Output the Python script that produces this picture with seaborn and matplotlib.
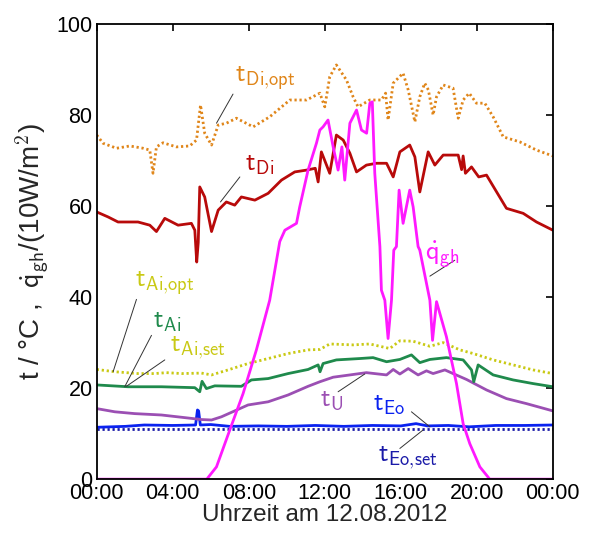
import numpy as np
import matplotlib
matplotlib.use("Agg")
import matplotlib.pyplot as plt
import seaborn as sns

# hours of day and values
t_di_opt_h = [0.0, 0.33, 1.04, 1.74, 2.44, 2.79, 2.96, 3.14, 3.49, 4.19, 4.89, 5.25, 5.46, 5.68,
              6.04, 6.39, 6.82, 7.35, 8.23, 9.1, 10.16, 11.04, 11.74, 12.0, 12.26, 12.61, 13.14,
              13.49, 13.75, 14.37, 14.98, 15.2, 15.33, 15.6, 16.12, 16.39, 16.74, 17.0, 17.26,
              17.45, 17.7, 17.88, 18.23, 18.75, 19.02, 19.28, 19.6, 19.98, 20.42, 20.86, 21.39,
              22.26, 23.14, 24.0]
t_di_opt = [75.6, 73.8, 72.7, 73.2, 72.7, 72.3, 67.2, 73.0, 73.9, 73.0, 73.2, 74.5, 82.2, 76.0,
            73.4, 77.8, 78.2, 79.3, 77.4, 79.6, 83.3, 83.3, 84.8, 81.8, 88.4, 91.0, 87.7,
            84.0, 81.8, 83.3, 83.3, 84.8, 78.9, 87.0, 89.2, 85.5, 78.5, 84.0, 87.0,
            85.5, 80.0, 84.0, 86.6, 85.9, 79.3, 83.3, 84.8, 82.6, 82.6, 79.6, 75.2,
            74.1, 72.3, 71.0]

t_di_h = [0.0, 0.6, 1.12, 2.17, 2.79, 3.14, 3.58, 4.28, 4.98, 5.16, 5.26, 5.34, 5.42, 5.68,
          6.04, 6.39, 6.82, 7.26, 7.61, 8.32, 9.02, 9.72, 10.42, 11.04, 11.5, 11.65, 11.82,
          12.26, 12.61, 12.97, 13.32, 13.67, 14.19, 14.72, 15.25, 15.6, 15.95, 16.47, 16.74,
          17.0, 17.44, 17.79, 18.23, 19.02, 19.2, 19.28, 19.4, 19.72, 20.1, 20.51, 21.56,
          22.44, 23.14, 24.0]
t_di = [58.7, 57.6, 56.5, 56.5, 55.8, 54.4, 57.3, 55.8, 56.2, 54.7, 47.7, 52.0, 64.2, 62.0,
        54.4, 59.1, 60.9, 60.2, 62.0, 61.3, 62.8, 65.7, 67.5, 67.9, 68.3, 65.3, 71.9,
        67.2, 75.6, 74.5, 71.6, 67.5, 69.0, 69.4, 69.4, 66.4, 71.9, 73.4, 70.8,
        63.1, 71.9, 69.0, 71.2, 71.2, 68.0, 71.0, 67.2, 68.6, 66.4, 66.8, 59.5,
        58.4, 56.5, 54.7]

q_gh_h = [0.0, 5.79, 6.3, 7.0, 7.7, 8.4, 9.1, 9.63, 9.9, 10.51, 10.68, 11.12, 11.56, 11.74,
          11.91, 12.17, 12.44, 12.7, 12.9, 13.05, 13.32, 13.67, 13.93, 14.2, 14.37, 14.5,
          14.63, 14.9, 14.98, 15.16, 15.33, 15.51, 15.63, 15.77, 15.91, 16.12, 16.47, 16.65,
          16.91, 17.0, 17.53, 17.67, 17.88, 18.4, 18.93, 19.28, 19.63, 20.16, 20.68, 24.0]
q_gh = [0.0, 0.0, 2.7, 10.8, 18.8, 28.4, 39.3, 52.2, 54.7, 56.2, 59.8, 67.9, 73.8, 76.7,
        77.4, 78.9, 73.0, 67.9, 73.0, 65.7, 78.2, 81.1, 76.7, 76.0, 82.6, 82.9,
        67.2, 51.1, 41.5, 39.3, 30.9, 39.3, 50.3, 51.1, 63.5, 56.2, 63.5, 59.8,
        51.1, 50.3, 39.3, 30.5, 39.0, 31.3, 21.0, 12.2, 7.8, 2.7, 0.0, 0.0]

t_ai_opt_h = [0.0, 0.95, 2.17, 3.05, 3.67, 4.46, 5.51, 6.04, 6.91, 7.96, 9.02, 10.07, 11.12,
              11.74, 12.26, 13.49, 14.37, 15.42, 15.95, 16.65, 17.53, 18.23, 19.11, 19.81,
              20.86, 21.91, 22.96, 24.0]
t_ai_opt = [24.1, 23.6, 23.2, 23.2, 23.4, 23.2, 23.3, 22.9, 24.0, 25.4, 26.5, 27.6, 28.4,
            28.5, 29.7, 29.5, 29.7, 28.7, 30.4, 30.3, 29.2, 30.0, 28.4, 27.6,
            26.2, 25.1, 24.0, 23.2]

t_ai_h = [0.0, 1.65, 3.4, 5.16, 5.42, 5.54, 5.77, 6.21, 7.61, 8.14, 9.02, 10.07, 11.12, 11.65,
          11.75, 11.91, 12.61, 13.84, 14.54, 15.25, 15.95, 16.56, 17.0, 17.53, 18.4, 19.28,
          19.72, 19.84, 20.07, 20.86, 21.91, 22.96, 24.0]
t_ai = [20.7, 20.3, 20.3, 20.1, 19.2, 21.5, 19.9, 20.5, 20.4, 21.8, 22.1, 23.2, 24.1, 25.1,
        23.6, 25.4, 26.2, 26.5, 26.7, 25.8, 26.3, 27.3, 25.6, 26.3, 26.7, 26.2,
        24.0, 21.4, 25.1, 22.9, 21.8, 21.0, 20.3]

t_u_h = [0.0, 0.95, 2.0, 3.4, 4.46, 5.51, 6.04, 6.56, 7.26, 7.96, 9.02, 10.07, 11.12, 11.74,
         12.44, 13.32, 14.19, 15.25, 15.6, 15.95, 16.39, 16.91, 17.35, 17.7, 18.32, 18.75,
         19.46, 20.51, 21.56, 22.61, 24.0]
t_u = [15.5, 14.8, 14.4, 14.1, 13.6, 13.1, 13.0, 13.7, 15.0, 16.3, 17.0, 18.5, 20.4, 21.4,
       22.4, 22.9, 23.4, 22.9, 24.1, 23.1, 24.3, 22.9, 23.8, 23.2, 24.0, 23.2,
       21.9, 19.6, 17.7, 16.6, 15.0]

t_eo_h = [0.0, 1.5, 2.5, 4.0, 5.2, 5.3, 5.36, 5.45, 6.0, 7.0, 8.5, 10.0, 11.5, 13.0, 14.5,
          16.0, 16.8, 17.4, 18.5, 19.6, 21.0, 22.5, 24.0]
t_eo = [11.4, 11.6, 11.9, 11.8, 11.9, 15.2, 15.0, 11.9, 12.0, 11.6, 11.7, 11.6, 11.8, 11.6,
        11.8, 11.7, 12.2, 11.7, 11.8, 11.5, 11.8, 11.8, 11.9]

t_eo_set_h = [0.0, 24.0]
t_eo_set = [11.0, 11.0]

x_ticks = [0, 4, 8, 12, 16, 20, 24]
x_tick_labels = ["00:00", "04:00", "08:00", "12:00", "16:00", "20:00", "00:00"]
y_ticks = [0, 20, 40, 60, 80, 100]

sns.set_style("white")
plt.rcParams["font.family"] = ["Liberation Sans", "DejaVu Sans"]
plt.rcParams["mathtext.fontset"] = "cm"

fig, ax = plt.subplots(figsize=(5.9, 5.33), dpi=100)
fig.subplots_adjust(left=0.164, right=0.937, top=0.955, bottom=0.101)

dots = (0, (0.8, 1.0))
series = [
    (t_eo_set_h, t_eo_set, "#1a1aa8", dots),
    (t_eo_h, t_eo, "#0a22f0", "-"),
    (t_u_h, t_u, "#9b4fb3", "-"),
    (t_ai_h, t_ai, "#1f8a4c", "-"),
    (t_ai_opt_h, t_ai_opt, "#c9c914", dots),
    (t_di_h, t_di, "#b80a0a", "-"),
    (t_di_opt_h, t_di_opt, "#e0861a", dots),
    (q_gh_h, q_gh, "#ff19ff", "-"),
]
for xs, ys, col, ls in series:
    sns.lineplot(x=xs, y=ys, ax=ax, color=col, linestyle=ls, linewidth=2.0,
                 sort=False, estimator=None)

# labels with thin leader lines: (text, colour, text pos, line start, line end)
labels = [
    (r"$\mathsf{t}_{\mathsf{Di{,}opt}}$", "#e0861a", (7.26, 88.1), (7.17, 84.6), (6.3, 78.2)),
    (r"$\mathsf{t}_{\mathsf{Di}}$", "#b80a0a", (7.79, 69.0), (7.53, 66.4), (6.51, 60.9)),
    (r"$\dot{\mathsf{q}}_{\mathsf{gh}}$", "#ff19ff", (17.26, 49.2), (18.84, 48.1), (17.53, 44.6)),
    (r"$\mathsf{t}_{\mathsf{Ai{,}opt}}$", "#c9c914", (2.0, 43.1), (2.09, 39.5), (0.86, 23.6)),
    (r"$\mathsf{t}_{\mathsf{Ai}}$", "#1f8a4c", (2.95, 34.5), (2.88, 31.6), (1.47, 20.3)),
    (r"$\mathsf{t}_{\mathsf{Ai{,}set}}$", "#c9c914", (3.84, 28.8), (3.58, 26.2), (1.56, 20.4)),
    (r"$\mathsf{t}_{\mathsf{U}}$", "#9b4fb3", (11.74, 17.4), (12.7, 19.2), (14.1, 23.1)),
    (r"$\mathsf{t}_{\mathsf{Eo}}$", "#0a22f0", (14.53, 16.3), (16.56, 14.8), (17.53, 11.5)),
    (r"$\mathsf{t}_{\mathsf{Eo{,}set}}$", "#1a1aa8", (14.8, 4.6), (15.95, 6.75), (17.17, 10.8)),
]
for txt, col, pos, p0, p1 in labels:
    ax.text(pos[0], pos[1], txt, color=col, fontsize=19, ha="left", va="center")
    ax.plot([p0[0], p1[0]], [p0[1], p1[1]], color="#333333", linewidth=0.7)

ax.set_xlim(0, 24)
ax.set_ylim(0, 100)
ax.set_xticks(x_ticks)
ax.set_xticklabels(x_tick_labels)
ax.set_yticks(y_ticks)
ax.tick_params(direction="in", length=5, width=1.2, top=True, right=True,
               labelsize=15.5, pad=3, colors="black")
for sp in ax.spines.values():
    sp.set_color("black")
    sp.set_linewidth(1.3)

ax.set_xlabel("Uhrzeit am 12.08.2012", fontsize=17.5, labelpad=0)
ax.set_ylabel(r"t / °C ,  $\dot{\mathsf{q}}_{\mathsf{gh}}$/(10W/m$^2$)", fontsize=20, labelpad=4)

fig.savefig("out.png", dpi=100)
